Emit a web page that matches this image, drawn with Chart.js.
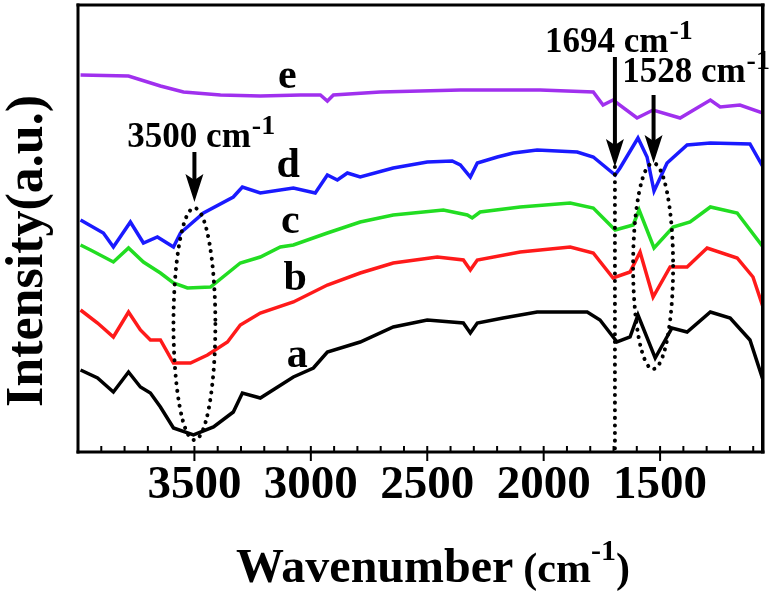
<!DOCTYPE html>
<html>
<head>
<meta charset="utf-8">
<script src="https://cdn.jsdelivr.net/npm/chart.js@4.4.1/dist/chart.umd.min.js"></script>
<style>
  html, body { margin: 0; padding: 0; overflow: hidden; background: #fff; }
  #wrap { width: 772px; height: 594px; }
</style>
</head>
<body>
<div id="wrap"><canvas id="ftir"></canvas></div>
<script>
// spectra (wavenumber in cm-1, intensity in a.u. with offsets)
let wnA = [3989, 3916, 3848, 3783, 3732, 3689, 3646, 3590, 3504, 3418, 3333, 3294, 3217, 3075, 2989, 2929, 2788, 2646, 2500, 2345, 2315, 2285, 2174, 2028, 1813, 1758, 1685, 1629, 1595, 1521, 1449, 1384, 1284, 1199, 1114, 1058];
let intA = [82, 74, 60, 80, 65, 59, 45, 24, 17, 25, 40, 59, 54, 75, 84, 100, 110, 125, 132, 129, 119, 129, 134, 140, 140, 132, 110, 115, 137, 94, 124, 120, 140, 134, 112, 72];

let wnB = [3989, 3916, 3848, 3783, 3732, 3689, 3646, 3590, 3517, 3444, 3358, 3303, 3217, 3075, 2929, 2788, 2646, 2457, 2345, 2315, 2285, 2101, 1886, 1787, 1702, 1629, 1586, 1530, 1457, 1384, 1298, 1169, 1101, 1058];
let intB = [142, 129, 115, 140, 122, 112, 112, 89, 89, 97, 110, 127, 139, 150, 167, 179, 189, 195, 192, 182, 192, 200, 205, 199, 174, 180, 200, 155, 185, 185, 204, 194, 175, 145];

let wnC = [3989, 3946, 3848, 3783, 3719, 3646, 3590, 3530, 3431, 3303, 3217, 3131, 3075, 2929, 2788, 2646, 2431, 2328, 2307, 2273, 2101, 1886, 1787, 1693, 1616, 1590, 1526, 1444, 1371, 1284, 1169, 1058];
let intC = [207, 202, 190, 204, 190, 179, 169, 164, 165, 189, 195, 205, 207, 219, 230, 237, 242, 237, 234, 240, 245, 249, 244, 222, 227, 242, 204, 225, 230, 245, 239, 205];

let wnD = [3989, 3891, 3848, 3775, 3719, 3659, 3590, 3560, 3461, 3333, 3294, 3217, 3075, 2981, 2929, 2886, 2843, 2788, 2646, 2500, 2393, 2358, 2315, 2285, 2199, 2131, 2028, 1856, 1787, 1693, 1672, 1595, 1556, 1526, 1470, 1384, 1284, 1114, 1058];
let intD = [232, 219, 205, 230, 209, 215, 205, 219, 239, 255, 265, 259, 264, 259, 277, 272, 279, 275, 284, 290, 291, 287, 275, 289, 295, 299, 302, 300, 295, 277, 284, 314, 295, 261, 289, 307, 309, 308, 285];

let wnE = [3989, 3783, 3646, 3547, 3388, 3217, 3045, 2959, 2929, 2903, 2702, 2358, 2015, 1787, 1745, 1702, 1599, 1530, 1414, 1284, 1242, 1157, 1058];
let intE = [377, 376, 366, 360, 357, 356, 357, 357, 351, 357, 360, 362, 362, 360, 347, 352, 334, 342, 334, 352, 345, 347, 339];

let seriesNames = ['a', 'b', 'c', 'd', 'e'];
let seriesColors = ['#000000', '#ff1a1a', '#22dd22', '#1a1aff', '#a030ee'];
let xTicks = [3500, 3000, 2500, 2000, 1500];

// annotations (data coordinates)
let curveLabelPos = [[3058, 85], [3067, 162], [3088, 219], [3097, 275], [3101, 364]];
let peakArrows = [
    { wn: 3500, from: 300, to: 250, text: '3500 cm', tx: 3788, ty: 305 },
    { wn: 1694, from: 395, to: 285, text: '1694 cm', tx: 1994, ty: 400 },
    { wn: 1528, from: 357, to: 289, text: '1528 cm', tx: 1663, ty: 370 }
];
let ovals = [
    { wn: 3500, y: 128, rx: 90, ry: 116 },
    { wn: 1530, y: 186, rx: 86, ry: 103 }
];
let dropLine = { wn: 1694, from: 285, to: 0 };

function pts(xs, ys) {
    return xs.map(function (x, i) { return { x: x, y: ys[i] }; });
}

let allWn = [wnA, wnB, wnC, wnD, wnE];
let allInt = [intA, intB, intC, intD, intE];

let datasets = seriesNames.map(function (n, i) {
    return {
        label: n,
        data: pts(allWn[i], allInt[i]),
        borderColor: seriesColors[i],
        borderWidth: 3.5,
        pointRadius: 0,
        tension: 0,
        fill: false
    };
});

const serif = '"Liberation Serif", "Times New Roman", serif';

let decorations = {
    id: 'decorations',
    afterDraw: function (chart) {
        let ctx = chart.ctx;
        let xs = chart.scales.x;
        let ys = chart.scales.y;
        // plot box taken from the scales themselves
        let left = xs.getPixelForValue(xs.max);
        let right = xs.getPixelForValue(xs.min);
        let top = ys.getPixelForValue(ys.max);
        let bottom = ys.getPixelForValue(ys.min);
        ctx.save();

        // minor ticks inward, major ticks crossing down
        ctx.strokeStyle = '#000';
        ctx.fillStyle = '#000';
        ctx.lineWidth = 2;
        for (let v = 1100; v <= 3900; v += 100) {
            let px = xs.getPixelForValue(v);
            ctx.beginPath();
            if (v % 500 === 0) {
                ctx.moveTo(px, bottom - 6);
                ctx.lineTo(px, bottom + 9);
            } else {
                ctx.moveTo(px, bottom - 6);
                ctx.lineTo(px, bottom);
            }
            ctx.stroke();
        }

        // curve letters
        ctx.font = 'bold 42px ' + serif;
        ctx.textAlign = 'center';
        ctx.textBaseline = 'alphabetic';
        curveLabelPos.forEach(function (p, i) {
            ctx.fillText(seriesNames[i], xs.getPixelForValue(p[0]), ys.getPixelForValue(p[1]));
        });

        // dotted ovals and drop line
        ctx.setLineDash([0.1, 7.5]);
        ctx.lineCap = 'round';
        ctx.lineWidth = 4;
        ovals.forEach(function (o) {
            let cx = xs.getPixelForValue(o.wn);
            let cy = ys.getPixelForValue(o.y);
            let rx = Math.abs(xs.getPixelForValue(o.wn + o.rx) - cx);
            let ry = Math.abs(ys.getPixelForValue(o.y + o.ry) - cy);
            ctx.beginPath();
            ctx.ellipse(cx, cy, rx, ry, 0, 0, Math.PI * 2);
            ctx.stroke();
        });
        let dx = xs.getPixelForValue(dropLine.wn);
        ctx.beginPath();
        ctx.moveTo(dx, ys.getPixelForValue(dropLine.from));
        ctx.lineTo(dx, ys.getPixelForValue(dropLine.to));
        ctx.stroke();
        ctx.setLineDash([]);
        ctx.lineCap = 'butt';

        // arrows + peak labels
        peakArrows.forEach(function (p) {
            let px = xs.getPixelForValue(p.wn);
            let y0 = ys.getPixelForValue(p.from);
            let y1 = ys.getPixelForValue(p.to);
            ctx.lineWidth = 4;
            ctx.beginPath();
            ctx.moveTo(px, y0);
            ctx.lineTo(px, y1 - 20);
            ctx.stroke();
            ctx.beginPath();
            ctx.moveTo(px - 9, y1 - 28);
            ctx.lineTo(px, y1 - 22);
            ctx.lineTo(px + 9, y1 - 28);
            ctx.lineTo(px, y1);
            ctx.closePath();
            ctx.fill();

            ctx.textAlign = 'left';
            ctx.font = 'bold 35px ' + serif;
            let tx = xs.getPixelForValue(p.tx);
            let ty = ys.getPixelForValue(p.ty);
            ctx.fillText(p.text, tx, ty);
            let w = ctx.measureText(p.text).width;
            ctx.font = 'bold 28px ' + serif;
            ctx.fillText('-1', tx + w + 1, ty - 13);
        });

        // frame on top
        ctx.fillStyle = '#000';
        ctx.fillRect(left - 1.5, top - 1.5, right - left + 3, 3);
        ctx.fillRect(left - 1.5, bottom - 1.5, right - left + 3, 3);
        ctx.fillRect(left - 1.5, top - 1.5, 3, bottom - top + 3);
        ctx.fillRect(right - 2, top - 1.5, 3.5, bottom - top + 3);

        // axis titles
        ctx.textAlign = 'left';
        ctx.font = 'bold 48px ' + serif;
        let t1 = 'Wavenumber';
        let tx = 236, ty = 582;
        ctx.fillText(t1, tx, ty);
        tx += ctx.measureText(t1).width + 10;
        ctx.font = 'bold 42px ' + serif;
        ctx.fillText('(cm', tx, ty);
        tx += ctx.measureText('(cm').width;
        ctx.font = 'bold 30px ' + serif;
        ctx.fillText('-1', tx, ty - 22);
        tx += ctx.measureText('-1').width;
        ctx.font = 'bold 42px ' + serif;
        ctx.fillText(')', tx, ty);

        ctx.translate(42, 251);
        ctx.rotate(-Math.PI / 2);
        ctx.textAlign = 'center';
        ctx.font = 'bold 52px ' + serif;
        ctx.fillText('Intensity(a.u.)', 0, 0);

        ctx.restore();
    }
};

var ctxFtir = document.getElementById('ftir').getContext('2d');
var ftirChart = new Chart(ctxFtir, {
    type: 'line',
    data: { datasets: datasets },
    options: {
        responsive: true,
        maintainAspectRatio: false,
        animation: false,
        layout: { padding: { left: 78, top: 5, right: 9, bottom: 0 } },
        scales: {
            x: {
                type: 'linear',
                reverse: true,
                min: 1058,
                max: 4000,
                grid: { display: false, drawTicks: false },
                border: { display: false },
                afterBuildTicks: function (scale) {
                    scale.ticks = xTicks.map(function (v) { return { value: v }; });
                },
                afterFit: function (scale) {
                    scale.height = 142;
                },
                ticks: {
                    autoSkip: false,
                    maxRotation: 0,
                    padding: 6,
                    color: '#000',
                    font: { family: serif, weight: 'bold', size: 47 },
                    callback: function (v) { return String(v); }
                }
            },
            y: {
                display: false,
                min: 0,
                max: 447
            }
        },
        plugins: {
            legend: { display: false },
            tooltip: { enabled: false }
        }
    },
    plugins: [decorations]
});
</script>
</body>
</html>
